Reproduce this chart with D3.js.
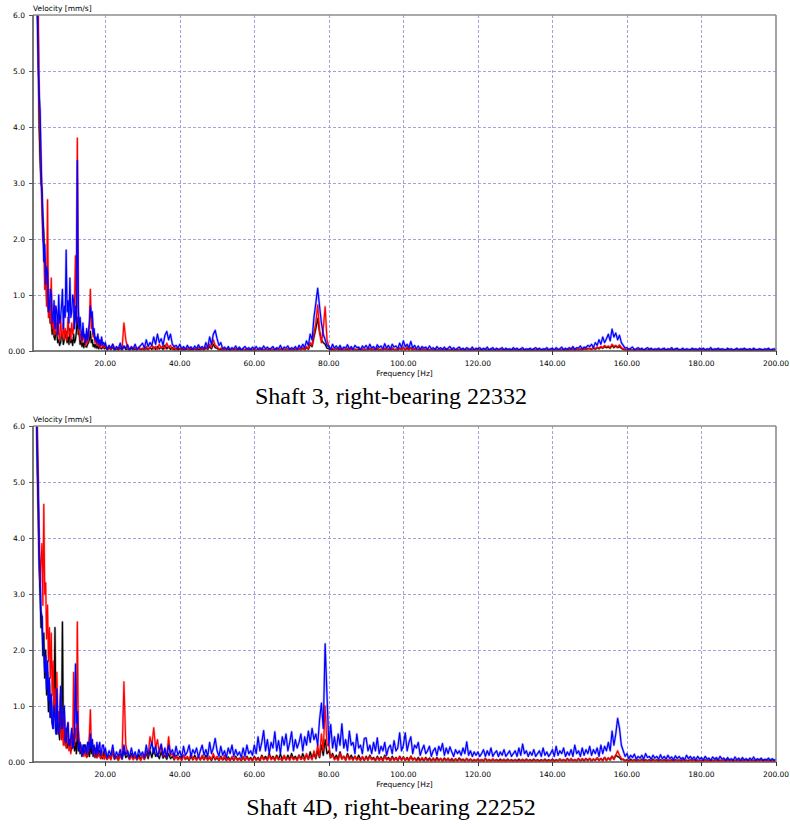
<!DOCTYPE html>
<meta charset="utf-8">

<!-- Load d3.js -->
<script src="https://d3js.org/d3.v7.min.js"></script>

<style>
    body {
        margin: 0;
        background: #fff;
    }

    .lbl {
        font-family: "DejaVu Sans", Verdana, sans-serif;
        font-size: 7.5px;
        fill: #000;
    }

    .title {
        font-family: "Liberation Serif", "Times New Roman", serif;
        font-size: 24px;
        fill: #000;
    }

    .grid {
        stroke: #a4a4dc;
        stroke-width: 1;
        stroke-dasharray: 3, 2;
    }

    .spec {
        fill: none;
        stroke-linejoin: round;
    }
</style>

<svg id="my_dataviz" width="790" height="824"></svg>

<script>
    // Frequency bins of the spectra [Hz]: 0.25 Hz below 20 Hz, 0.5 Hz above
    var lowFreqs = d3.range(1.5, 20, 0.25); // 74 bins, 1.5 .. 19.75
    var highFreqs = d3.range(20, 200.5, 0.5); // 361 bins, 20 .. 200
    var freqs = lowFreqs.concat(highFreqs);

    var xTicks = [20, 40, 60, 80, 100, 120, 140, 160, 180, 200];
    var xTickLabels = ["20.00", "40.00", "60.00", "80.00", "100.00", "120.00", "140.00", "160.00", "180.00", "200.00"];
    var yTicks = [0, 1, 2, 3, 4, 5, 6];
    var yTickLabels = ["0.00", "1.0", "2.0", "3.0", "4.0", "5.0", "6.0"];

    // ---- Shaft 3, right-bearing 22332, velocity [mm/s] ----
    var shaft3Black = [
        6.5, 6.0, 5.3, 4.0, 3.4, 3.0, 2.9, 2.4,
        2.1, 1.6, 1.5, 1.1, 1.1, .7, .7, .5,
        .5, .3, .6, .25, .2, .35, .3, .15,
        .2, .1, .15, .3, .3, .12, .2, .25,
        .35, .15, .25, .12, .4, .15, .2, .1,
        .3, .15, .2, .35, .6, .3, .3, .12,
        .2, .08, .15, .06, .2, .08, .07, .12,
        .15, .2, .35, .15, .2, .08, .12, .06,
        .12, .05, .1, .04, .12, .05, .04, .06,
        .08, .04,
        // 20 Hz ..
        .07, .02, .05, .03, .06, .02, .04, .02, .05, .02, .08, .03, .04, .02, .05, .02, .04, .02, .05, .02,
        .04, .02, .05, .02, .06, .03, .07, .03, .08, .04, .07, .03, .1, .04, .08, .03, .06, .02, .05, .02,
        .04, .02, .03, .02, .04, .02, .03, .02, .04, .02, .03, .02, .04, .02, .05, .03, .08, .04, .12, .06,
        .05, .02, .03, .01, .03, .02, .03, .01, .03, .02, .03, .01, .03, .02, .03, .01, .03, .02, .03, .01,
        .03, .01, .03, .02, .03, .01, .03, .02, .03, .01, .03, .02, .03, .01, .03, .02, .03, .01, .03, .02,
        .03, .01, .03, .02, .04, .02, .05, .02, .06, .03, .12, .08, .25, .4, .58, .35, .2, .15, .12, .05,
        .04, .02, .03, .01, .04, .02, .03, .01, .03, .02, .03, .01, .04, .02, .03, .01, .03, .02, .03, .01,
        .03, .02, .04, .01, .03, .02, .04, .01, .03, .02, .04, .02, .03, .01, .04, .02, .03, .01, .05, .02,
        .06, .02, .05, .02, .06, .02, .04, .02, .03, .01, .03, .02, .03, .01, .02, .03, .01, .03, .02, .01,
        .02, .01, .02, .03, .01, .02, .02, .01, .02, .01, .02, .02, .01, .02, .01, .02, .01, .02, .02, .01,
        .02, .01, .02, .01, .02, .01, .02, .02, .01, .02, .01, .02, .01, .02, .01, .02, .01, .02, .01, .02,
        .01, .02, .01, .02, .01, .02, .01, .02, .01, .02, .02, .01, .02, .01, .02, .01, .02, .01, .02, .01,
        .02, .01, .02, .01, .02, .01, .02, .02, .01, .02, .02, .03, .01, .03, .02, .03, .02, .04, .03, .04,
        .04, .03, .05, .03, .06, .04, .07, .05, .08, .06, .07, .05, .1, .06, .09, .06, .08, .05, .03, .02,
        .02, .01, .02, .01, .02, .01, .02, .01, .02, .01, .02, .01, .02, .01, .02, .01, .02, .01, .02, .01,
        .02, .01, .02, .01, .02, .01, .03, .01, .02, .01, .02, .01, .02, .01, .02, .01, .02, .01, .02, .01,
        .02, .01, .02, .01, .02, .01, .02, .01, .02, .01, .03, .01, .02, .01, .02, .01, .02, .01, .02, .01,
        .02, .01, .02, .01, .03, .01, .02, .01, .02, .01, .02, .01, .02, .01, .02, .01, .03, .01, .02, .01,
        .02
    ];
    var shaft3Red = [
        6.5, 6.5, 6.2, 4.5, 3.9, 3.2, 2.6, 2.0,
        1.9, 1.1, 1.3, .8, 2.7, .6, .9, .5,
        1.3, .4, .6, .3, .8, .3, .5, .6,
        .3, .2, .6, .3, .25, .5, .2, .4,
        .3, .2, .6, .3, .35, .2, .5, .3,
        .4, .9, 1.7, .6, 3.8, .5, .5, .2,
        .3, .15, .4, .2, .25, .1, .35, .15,
        .3, .5, 1.1, .4, .6, .25, .3, .15,
        .2, .1, .25, .08, .15, .06, .2, .08,
        .1, .06,
        // 20 Hz ..
        .1, .03, .08, .02, .12, .04, .06, .02, .09, .03, .5, .2, .05, .02, .08, .03, .06, .02, .07, .03,
        .05, .02, .08, .03, .06, .1, .04, .08, .03, .12, .05, .09, .04, .14, .06, .1, .03, .07, .02, .05,
        .04, .02, .06, .03, .05, .02, .07, .03, .04, .02, .06, .03, .05, .02, .08, .04, .12, .06, .2, .1,
        .08, .03, .05, .02, .04, .01, .05, .02, .03, .01, .04, .02, .05, .01, .03, .02, .04, .01, .03, .02,
        .04, .01, .03, .02, .05, .01, .03, .02, .04, .01, .03, .02, .05, .01, .04, .02, .03, .01, .04, .02,
        .03, .01, .04, .02, .05, .02, .06, .03, .08, .04, .15, .1, .3, .5, .82, .35, .15, .4, .79, .2,
        .08, .02, .05, .01, .04, .02, .06, .01, .03, .02, .05, .01, .04, .02, .03, .01, .05, .02, .04, .01,
        .03, .02, .05, .01, .04, .02, .06, .01, .03, .02, .05, .02, .04, .01, .06, .02, .03, .01, .05, .02,
        .06, .02, .08, .03, .05, .01, .04, .02, .03, .01, .04, .02, .03, .01, .02, .03, .01, .04, .02, .01,
        .03, .01, .02, .04, .01, .02, .03, .01, .02, .01, .03, .02, .01, .03, .01, .02, .01, .03, .02, .01,
        .02, .01, .03, .01, .02, .01, .02, .03, .01, .02, .01, .02, .01, .03, .01, .02, .01, .02, .01, .02,
        .01, .02, .01, .03, .01, .02, .01, .02, .01, .02, .03, .01, .02, .01, .02, .01, .03, .01, .02, .01,
        .02, .01, .03, .01, .02, .01, .03, .02, .01, .03, .02, .04, .01, .03, .02, .04, .02, .05, .03, .04,
        .05, .03, .06, .04, .07, .05, .08, .06, .1, .07, .09, .06, .12, .08, .1, .07, .11, .06, .04, .02,
        .02, .01, .02, .01, .03, .01, .02, .01, .02, .01, .02, .01, .03, .01, .02, .01, .02, .01, .02, .01,
        .02, .01, .02, .01, .02, .01, .03, .01, .02, .01, .02, .01, .02, .01, .02, .01, .03, .01, .02, .01,
        .02, .01, .02, .01, .02, .01, .02, .01, .03, .01, .02, .01, .02, .01, .02, .01, .02, .01, .02, .01,
        .02, .01, .03, .01, .02, .01, .02, .01, .02, .01, .02, .01, .03, .01, .02, .01, .02, .01, .02, .01,
        .02
    ];
    var shaft3Blue = [
        6.5, 6.5, 5.1, 4.6, 4.3, 3.5, 2.8, 2.2,
        1.6, 1.9, 1.2, 1.5, 1.4, .7, .8, 1.1,
        1.0, .5, .6, .9, .4, .8, .7, .3,
        1.0, .5, .6, .8, 1.1, .4, .8, .6,
        1.8, .7, .9, .5, 1.3, .6, .7, 1.0,
        .9, .4, .8, .5, 3.4, .8, .4, .6,
        .35, .2, .5, .25, .3, .15, .4, .2,
        .35, .5, .8, .6, .7, .3, .4, .2,
        .25, .15, .3, .12, .2, .1, .25, .12,
        .15, .1,
        // 20 Hz ..
        .15, .03, .1, .05, .12, .02, .08, .04, .14, .03, .09, .05, .11, .02, .07, .04, .12, .03, .06, .1,
        .14, .05, .2, .08, .15, .1, .25, .12, .3, .15, .22, .1, .28, .35, .2, .3, .12, .08, .1, .05,
        .12, .04, .08, .03, .1, .05, .07, .03, .09, .04, .11, .05, .08, .04, .15, .06, .25, .12, .3, .37,
        .22, .1, .15, .04, .07, .03, .08, .02, .06, .04, .09, .03, .07, .02, .05, .08, .03, .06, .02, .07,
        .04, .08, .03, .06, .02, .09, .04, .07, .03, .05, .08, .02, .06, .04, .1, .03, .07, .05, .09, .03,
        .06, .04, .08, .03, .1, .05, .12, .06, .18, .1, .3, .2, .6, .85, 1.12, .8, .5, .3, .2, .1,
        .08, .03, .12, .05, .09, .04, .1, .03, .07, .05, .11, .04, .08, .03, .1, .06, .07, .02, .09, .05,
        .1, .04, .12, .05, .08, .03, .11, .06, .09, .04, .13, .05, .1, .03, .12, .07, .09, .04, .14, .06,
        .18, .08, .12, .06, .17, .05, .1, .04, .09, .03, .08, .05, .07, .03, .09, .04, .06, .02, .08, .04,
        .06, .03, .07, .02, .05, .08, .03, .06, .02, .05, .07, .03, .05, .02, .06, .04, .03, .07, .02, .05,
        .04, .06, .02, .05, .03, .07, .02, .04, .06, .02, .05, .03, .04, .06, .02, .05, .03, .04, .02, .06,
        .03, .05, .02, .04, .06, .02, .04, .03, .05, .02, .04, .06, .03, .05, .02, .04, .03, .06, .02, .04,
        .05, .02, .06, .03, .04, .07, .02, .05, .03, .06, .04, .08, .03, .06, .05, .09, .04, .07, .06, .1,
        .08, .12, .06, .15, .1, .2, .12, .25, .15, .22, .3, .18, .39, .25, .32, .2, .28, .15, .1, .05,
        .06, .03, .05, .07, .02, .04, .06, .03, .05, .02, .04, .06, .03, .05, .02, .04, .03, .05, .02, .04,
        .05, .02, .04, .03, .06, .02, .04, .05, .02, .03, .05, .02, .04, .03, .02, .05, .03, .04, .02, .05,
        .03, .05, .02, .04, .03, .06, .02, .04, .03, .05, .02, .04, .03, .02, .05, .03, .04, .02, .03, .05,
        .02, .04, .03, .05, .02, .03, .04, .02, .05, .03, .02, .04, .03, .02, .04, .03, .05, .02, .03, .04,
        .03
    ];

    // ---- Shaft 4D, right-bearing 22252, velocity [mm/s] ----
    var shaft4Black = [
        6.5, 5.2, 4.4, 3.5, 3.0, 2.4, 2.6, 1.9,
        2.3, 1.5, 2.0, 1.2, 1.6, .9, 1.4, .8,
        1.2, .7, .6, 1.0, 2.4, .6, .5, .8,
        .6, .4, .9, .5, 2.5, .4, .5, .3,
        .6, .25, .3, .4, .4, .2, .25, .3,
        .5, .2, .35, .15, .6, .2, .3, .15,
        .25, .1, .2, .3, .3, .12, .2, .1,
        .25, .1, .35, .15, .3, .1, .2, .08,
        .25, .08, .15, .2, .2, .07, .12, .06,
        .18, .08,
        // 20 Hz ..
        .15, .05, .12, .06, .18, .05, .1, .04, .14, .06, .2, .08, .12, .05, .15, .06, .1, .04, .13, .05,
        .12, .05, .15, .06, .2, .08, .25, .1, .15, .06, .18, .07, .12, .05, .15, .06, .1, .04, .12, .05,
        .1, .04, .12, .05, .08, .03, .1, .04, .12, .05, .09, .04, .1, .04, .12, .05, .08, .03, .1, .04,
        .08, .03, .1, .04, .07, .03, .09, .04, .08, .03, .1, .04, .07, .03, .08, .03, .1, .04, .08, .03,
        .1, .04, .08, .03, .12, .05, .1, .04, .15, .06, .1, .04, .12, .05, .14, .05, .1, .04, .12, .05,
        .15, .06, .1, .04, .12, .05, .15, .06, .12, .05, .18, .07, .15, .06, .2, .08, .3, .12, .4, .15,
        .2, .08, .15, .06, .12, .05, .18, .06, .1, .04, .15, .06, .12, .05, .1, .04, .12, .05, .08, .03,
        .1, .04, .12, .05, .08, .03, .1, .04, .09, .03, .12, .05, .08, .03, .1, .04, .08, .03, .1, .04,
        .09, .03, .08, .03, .1, .04, .07, .03, .08, .03, .06, .02, .08, .03, .07, .02, .06, .02, .08, .03,
        .06, .02, .07, .03, .05, .02, .06, .02, .05, .02, .07, .03, .05, .02, .06, .02, .05, .02, .04, .02,
        .05, .02, .04, .02, .06, .02, .04, .02, .05, .02, .04, .02, .05, .02, .04, .02, .05, .02, .04, .02,
        .04, .02, .05, .02, .04, .02, .05, .02, .04, .02, .05, .02, .04, .02, .04, .02, .05, .02, .04, .02,
        .05, .02, .04, .02, .05, .02, .04, .02, .06, .02, .05, .02, .04, .02, .06, .02, .05, .02, .06, .03,
        .06, .02, .05, .03, .07, .03, .06, .03, .08, .03, .07, .04, .1, .05, .12, .1, .08, .04, .05, .02,
        .04, .02, .05, .02, .04, .02, .04, .02, .05, .02, .04, .02, .04, .02, .05, .02, .04, .02, .04, .02,
        .04, .02, .03, .02, .04, .02, .04, .02, .03, .02, .04, .02, .03, .02, .04, .02, .04, .02, .03, .02,
        .03, .02, .04, .02, .03, .02, .03, .02, .04, .02, .03, .02, .03, .02, .04, .02, .03, .02, .03, .02,
        .03, .02, .03, .02, .04, .02, .03, .02, .03, .02, .03, .02, .04, .02, .03, .02, .03, .02, .03, .02,
        .03
    ];
    var shaft4Red = [
        6.5, 6.0, 5.0, 4.0, 3.2, 3.6, 3.9, 2.8,
        4.6, 3.0, 3.2, 2.2, 2.8, 1.8, 2.4, 1.5,
        2.3, 1.2, 1.8, 1.0, 1.3, .8, 1.6, .7,
        .9, .5, 1.2, .4, .6, .3, .9, .35,
        .25, .4, .7, .2, .3, .15, .5, .25,
        1.6, .3, .6, .4, 2.5, .6, .4, .2,
        .3, .15, .2, .1, .25, .12, .08, .15,
        .3, .5, .93, .3, .4, .15, .25, .1,
        .2, .08, .3, .1, .15, .06, .2, .08,
        .1, .05,
        // 20 Hz ..
        .15, .05, .1, .04, .2, .06, .08, .03, .12, .05, 1.43, .3, .15, .05, .1, .04, .12, .05, .08, .03,
        .12, .05, .2, .1, .45, .3, .61, .25, .4, .15, .3, .1, .2, .08, .45, .12, .15, .05, .1, .04,
        .08, .03, .12, .05, .1, .04, .15, .05, .08, .03, .1, .04, .12, .05, .08, .03, .1, .04, .15, .05,
        .1, .03, .08, .04, .12, .03, .06, .02, .1, .04, .08, .03, .06, .02, .1, .04, .08, .03, .06, .02,
        .08, .03, .06, .02, .1, .04, .07, .03, .12, .04, .08, .03, .1, .04, .06, .02, .12, .04, .08, .03,
        .1, .04, .07, .03, .12, .05, .08, .03, .15, .05, .1, .04, .2, .08, .3, .1, .5, .2, 1.0, .3,
        .3, .08, .12, .04, .08, .03, .15, .05, .1, .03, .12, .04, .08, .03, .1, .04, .07, .02, .1, .04,
        .08, .03, .1, .04, .06, .02, .08, .03, .07, .02, .1, .04, .06, .02, .08, .03, .07, .02, .09, .03,
        .08, .03, .06, .02, .1, .03, .07, .02, .05, .02, .08, .03, .06, .02, .05, .02, .07, .02, .05, .02,
        .06, .02, .05, .02, .07, .02, .04, .01, .06, .02, .05, .02, .04, .01, .06, .02, .05, .01, .04, .02,
        .05, .02, .04, .01, .06, .02, .04, .01, .05, .02, .04, .01, .03, .02, .05, .01, .04, .02, .03, .01,
        .04, .01, .03, .02, .05, .01, .04, .02, .03, .01, .04, .02, .03, .01, .03, .02, .04, .01, .03, .02,
        .04, .01, .03, .02, .05, .02, .04, .01, .05, .02, .06, .02, .04, .02, .05, .02, .06, .03, .05, .02,
        .06, .02, .05, .03, .07, .03, .06, .02, .08, .03, .07, .04, .1, .05, .12, .2, .12, .06, .04, .02,
        .04, .01, .03, .02, .04, .01, .03, .02, .04, .01, .03, .02, .03, .01, .04, .02, .03, .01, .03, .02,
        .03, .01, .04, .02, .03, .01, .03, .02, .04, .01, .03, .02, .03, .01, .04, .02, .03, .01, .03, .02,
        .03, .01, .03, .02, .04, .01, .03, .02, .03, .01, .03, .02, .04, .01, .03, .02, .03, .01, .03, .02,
        .03, .01, .04, .02, .03, .01, .03, .02, .03, .01, .04, .02, .03, .01, .03, .02, .03, .01, .03, .02,
        .03
    ];
    var shaft4Blue = [
        6.5, 5.6, 4.9, 3.8, 3.3, 2.7, 2.6, 2.1,
        2.0, 1.6, 1.9, 1.3, 1.8, 1.1, 1.5, .8,
        1.2, .7, .6, 1.0, .8, .5, 1.3, .6,
        .5, .7, 1.35, .6, .6, .9, 1.0, .4,
        .35, .6, .7, .3, .3, .45, .6, .25,
        .3, .5, 1.75, .7, .9, .4, .2, .35,
        .25, .12, .3, .15, .2, .3, .15, .35,
        .35, .2, .5, .25, .4, .15, .3, .2,
        .12, .35, .15, .25, .35, .12, .2, .3,
        .3, .15,
        // 20 Hz ..
        .25, .08, .2, .12, .3, .07, .18, .1, .22, .06, .3, .12, .2, .08, .25, .1, .18, .07, .22, .12,
        .18, .08, .3, .12, .22, .35, .15, .28, .1, .2, .32, .12, .25, .08, .3, .15, .22, .1, .28, .12,
        .2, .08, .28, .12, .18, .3, .1, .22, .15, .25, .08, .2, .3, .12, .22, .1, .35, .15, .25, .42,
        .2, .1, .28, .12, .2, .08, .25, .15, .3, .1, .22, .12, .18, .08, .25, .1, .3, .15, .2, .12,
        .3, .15, .45, .2, .35, .56, .2, .4, .15, .35, .25, .54, .2, .38, .15, .45, .3, .5, .2, .35,
        .54, .2, .4, .25, .35, .5, .2, .45, .3, .55, .35, .6, .4, .5, .3, .75, 1.05, .6, 2.11, 1.19,
        .3, .67, .25, .45, .2, .5, .3, .68, .25, .4, .2, .55, .3, .35, .15, .5, .25, .3, .15, .42,
        .43, .2, .3, .15, .35, .2, .43, .15, .28, .2, .35, .12, .25, .3, .15, .38, .2, .25, .52, .2,
        .3, .52, .2, .35, .45, .15, .3, .25, .35, .12, .22, .3, .15, .2, .28, .1, .2, .25, .12, .28,
        .2, .33, .12, .25, .15, .27, .18, .1, .22, .15, .2, .12, .25, .15, .36, .12, .2, .1, .18, .12,
        .18, .1, .15, .22, .1, .2, .12, .25, .1, .16, .2, .1, .18, .12, .22, .1, .15, .2, .1, .15,
        .2, .1, .25, .12, .32, .15, .2, .1, .18, .12, .22, .1, .15, .2, .1, .25, .12, .18, .1, .15,
        .22, .1, .28, .12, .2, .15, .25, .1, .18, .12, .22, .1, .3, .15, .2, .1, .25, .12, .22, .15,
        .28, .12, .22, .15, .25, .1, .3, .15, .28, .2, .35, .2, .55, .3, .5, .78, .6, .3, .2, .1,
        .15, .06, .12, .08, .14, .05, .1, .07, .12, .05, .15, .08, .1, .05, .12, .07, .1, .05, .13, .06,
        .1, .05, .12, .06, .09, .04, .11, .06, .1, .05, .08, .04, .12, .06, .1, .05, .09, .04, .1, .05,
        .08, .04, .1, .05, .07, .03, .09, .05, .08, .04, .1, .05, .07, .03, .08, .04, .06, .03, .09, .04,
        .07, .03, .08, .04, .06, .03, .07, .04, .09, .03, .06, .04, .07, .03, .05, .04, .07, .03, .06, .03,
        .05
    ];

    var svg = d3.select("#my_dataviz");

    // Plot frame (same for both panels, second one shifted down)
    var plotLeft = 33, plotRight = 776, plotTop = 15, plotBottom = 351;

    var x = d3.scaleLinear().domain([0.6, 200]).range([plotLeft, plotRight]);
    var y = d3.scaleLinear().domain([0, 6]).range([plotBottom, plotTop]);

    var line = d3.line()
        .x(function(d) { return x(d[0]); })
        .y(function(d) { return y(d[1]); });

    function drawPanel(offsetY, id, series, title) {
        var g = svg.append("g")
            .attr("transform", "translate(0," + offsetY + ")");

        g.append("clipPath")
            .attr("id", "clip" + id)
            .append("rect")
            .attr("x", plotLeft)
            .attr("y", plotTop)
            .attr("width", plotRight - plotLeft)
            .attr("height", plotBottom - plotTop);

        // dashed grid
        g.selectAll(".vgrid")
            .data(xTicks.slice(0, -1))
            .enter().append("line")
            .attr("class", "grid")
            .attr("x1", function(d) { return Math.round(x(d)) + 0.5; })
            .attr("x2", function(d) { return Math.round(x(d)) + 0.5; })
            .attr("y1", plotTop)
            .attr("y2", plotBottom);

        g.selectAll(".hgrid")
            .data(yTicks.slice(1, -1))
            .enter().append("line")
            .attr("class", "grid")
            .attr("x1", plotLeft)
            .attr("x2", plotRight)
            .attr("y1", function(d) { return Math.round(y(d)) + 0.5; })
            .attr("y2", function(d) { return Math.round(y(d)) + 0.5; });

        // spectra: black, red, then blue on top
        var lines = g.append("g").attr("clip-path", "url(#clip" + id + ")");
        series.forEach(function(s) {
            var pts = d3.zip(freqs, s.values);
            lines.append("path")
                .attr("class", "spec")
                .attr("d", line(pts))
                .attr("stroke", s.color)
                .attr("stroke-opacity", 0.3)
                .attr("stroke-width", 2.4);
            lines.append("path")
                .attr("class", "spec")
                .attr("d", line(pts))
                .attr("stroke", s.color)
                .attr("stroke-width", 1.2);
        });

        // frame
        g.append("line")
            .attr("x1", plotLeft).attr("x2", plotRight)
            .attr("y1", plotTop).attr("y2", plotTop)
            .attr("stroke", "#8c8c8c").attr("stroke-width", 1.6);
        g.append("line")
            .attr("x1", plotRight).attr("x2", plotRight)
            .attr("y1", plotTop).attr("y2", plotBottom)
            .attr("stroke", "#8c8c8c").attr("stroke-width", 1.6);
        g.append("line")
            .attr("x1", plotLeft).attr("x2", plotLeft)
            .attr("y1", plotTop).attr("y2", plotBottom + 1)
            .attr("stroke", "#555").attr("stroke-width", 1.6);
        g.append("line")
            .attr("x1", plotLeft).attr("x2", plotRight)
            .attr("y1", plotBottom).attr("y2", plotBottom)
            .attr("stroke", "#555").attr("stroke-width", 1.6);

        // y ticks + labels
        g.selectAll(".ytick")
            .data(yTicks)
            .enter().append("line")
            .attr("x1", plotLeft - 4).attr("x2", plotLeft)
            .attr("y1", function(d) { return Math.round(y(d)) + 0.5; })
            .attr("y2", function(d) { return Math.round(y(d)) + 0.5; })
            .attr("stroke", "#555");

        g.selectAll(".ylab")
            .data(yTicks)
            .enter().append("text")
            .attr("class", "lbl")
            .attr("x", plotLeft - 8)
            .attr("y", function(d) { return y(d); })
            .attr("dy", "0.35em")
            .attr("text-anchor", "end")
            .text(function(d, i) { return yTickLabels[i]; });

        // x ticks + labels
        g.selectAll(".xtick")
            .data(xTicks)
            .enter().append("line")
            .attr("x1", function(d) { return Math.round(x(d)) + 0.5; })
            .attr("x2", function(d) { return Math.round(x(d)) + 0.5; })
            .attr("y1", plotBottom).attr("y2", plotBottom + 4)
            .attr("stroke", "#333");

        g.selectAll(".xlab")
            .data(xTicks)
            .enter().append("text")
            .attr("class", "lbl")
            .attr("x", function(d) { return x(d); })
            .attr("y", plotBottom + 15)
            .attr("text-anchor", "middle")
            .text(function(d, i) { return xTickLabels[i]; });

        // axis names
        g.append("text")
            .attr("class", "lbl")
            .attr("x", plotLeft)
            .attr("y", plotTop - 4)
            .text("Velocity [mm/s]");

        g.append("text")
            .attr("class", "lbl")
            .attr("x", (plotLeft + plotRight) / 2)
            .attr("y", plotBottom + 25)
            .attr("text-anchor", "middle")
            .text("Frequency [Hz]");

        // caption
        g.append("text")
            .attr("class", "title")
            .attr("x", 391)
            .attr("y", plotBottom + 53)
            .attr("text-anchor", "middle")
            .text(title);
    }

    drawPanel(0, 1, [
        { color: "#000000", values: shaft3Black },
        { color: "#ff0000", values: shaft3Red },
        { color: "#0000ff", values: shaft3Blue }
    ], "Shaft 3, right-bearing 22332");

    drawPanel(411, 2, [
        { color: "#000000", values: shaft4Black },
        { color: "#ff0000", values: shaft4Red },
        { color: "#0000ff", values: shaft4Blue }
    ], "Shaft 4D, right-bearing 22252");
</script>
